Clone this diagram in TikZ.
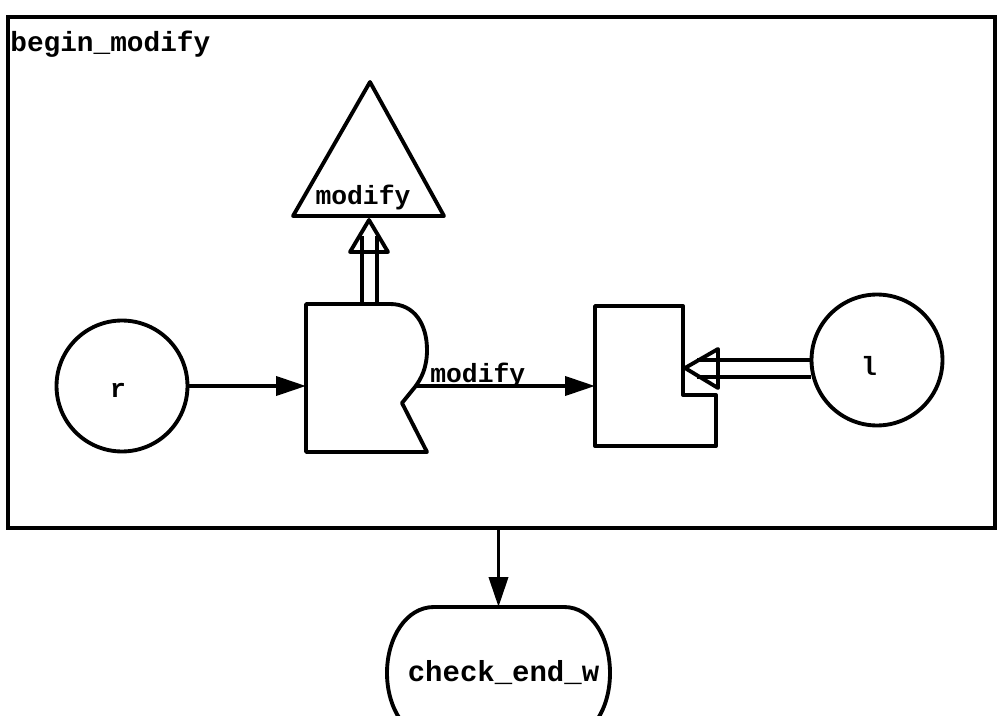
\documentclass[tikz,border=0pt]{standalone}
\usepackage{fontspec}
\setmonofont{Liberation Mono}
\usetikzlibrary{arrows.meta}
\begin{document}
\begin{tikzpicture}[x=0.02cm,y=-0.02cm,
  ln/.style={line width=2.2pt, line join=round},
  solidarrow/.style={ln, -{Triangle[length=0.6cm,width=0.38cm]}},
  lab/.style={font=\ttfamily\bfseries\fontsize{15}{18}\selectfont, inner sep=0},
  circ/.style={circle, draw, ln, minimum size=2.62cm, inner sep=0},
  ghost/.style={inner sep=0, outer sep=0}]
\useasboundingbox (0,0) rectangle (998,716);
\clip (0,0) rectangle (998,716);
% frame
\node[draw, line width=1.9pt, ghost, minimum width=19.74cm, minimum height=10.22cm] (frame) at (501.5,272.5) {};
\node[lab, font=\ttfamily\bfseries\fontsize{15.8}{18}\selectfont, anchor=west] (title) at (10,44) {begin\_modify};
% circles
\node[circ] (r) at (122,386) {};
\node[lab] (rlab) at (118,390) {r};
\node[circ] (l) at (877,360) {};
\node[lab] (llab) at (869,366) {l};
% box 1
\node[ghost, minimum width=2.42cm, minimum height=2.96cm] (b1) at (366.5,378) {};
\draw[ln] (306,304) -- (390,304) .. controls (415,304) and (427,325) .. (427,350)
  .. controls (427,368) and (421,379) .. (415,387) -- (402,403) -- (427,452) -- (306,452) -- cycle;
% box 2
\node[ghost, minimum width=2.42cm, minimum height=2.8cm] (b2) at (655.5,376) {};
\draw[ln] (595,306) -- (683,306) -- (683,395) -- (716,395) -- (716,446) -- (595,446) -- cycle;
% triangle
\node[ghost, minimum width=3.02cm, minimum height=2.68cm] (tri) at (368.5,149) {};
\draw[ln] (293,216) -- (370,82) -- (444,216) -- cycle;
\node[lab] (tlab) at (363,197) {modify};
% connectors
\draw[solidarrow] (r.east) -- (r.east -| b1.west);
\coordinate (b1out) at (415,386);
\draw[solidarrow] (b1out) -- (b1out -| b2.west);
\node[lab, anchor=base west] (mlab) at (430,382) {modify};
% up double arrow
\coordinate (up) at (369.5,304);
\draw[ln] (up) ++(-7.5,0) -- ++(0,-68);
\draw[ln] (up) ++(7.5,0) -- ++(0,-68);
\draw[ln] (350,252) -- (369,220) -- (388,252) -- cycle;
% left double arrow
\draw[ln] (l.west) -- ++(-113,0);
\draw[ln] (l.west) ++(1,17) -- ++(-114,0);
\draw[ln] (718,349) -- (685,368) -- (718,388) -- cycle;
% terminal
\node[ghost, minimum width=4.46cm, minimum height=2.64cm] (term) at (498.5,673) {};
\draw[ln] (434,607) -- (564,607) .. controls (592,607) and (610,638) .. (610,673)
  .. controls (610,708) and (592,739) .. (564,739) -- (434,739)
  .. controls (406,739) and (387,708) .. (387,673)
  .. controls (387,638) and (406,607) .. (434,607) -- cycle;
\node[lab, font=\ttfamily\bfseries\fontsize{16.5}{18}\selectfont] (clab) at (503.5,673) {check\_end\_w};
\draw[solidarrow] (term.north |- frame.south) -- (term.north);
\end{tikzpicture}
\end{document}
